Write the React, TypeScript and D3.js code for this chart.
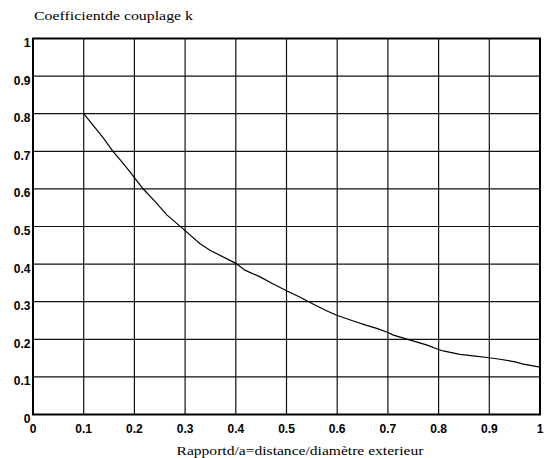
import React from "react";
import * as d3 from "d3";

const xTicks = [0, 0.1, 0.2, 0.3, 0.4, 0.5, 0.6, 0.7, 0.8, 0.9, 1];
const yTicks = [0, 0.1, 0.2, 0.3, 0.4, 0.5, 0.6, 0.7, 0.8, 0.9, 1];
const xTickLabels = ["0", "0.1", "0.2", "0.3", "0.4", "0.5", "0.6", "0.7", "0.8", "0.9", "1"];
const yTickLabels = ["0", "0.1", "0.2", "0.3", "0.4", "0.5", "0.6", "0.7", "0.8", "0.9", "1"];

const ratio = [0.1, 0.139, 0.158, 0.172, 0.191, 0.2, 0.218, 0.241, 0.264, 0.3, 0.329, 0.349, 0.4, 0.418, 0.448, 0.471, 0.5, 0.527, 0.556, 0.579, 0.599, 0.629, 0.658, 0.678, 0.7, 0.711, 0.744, 0.776, 0.8, 0.809, 0.842, 0.868, 0.9, 0.921, 0.951, 0.967, 1.0];
const coupling = [0.8, 0.735, 0.699, 0.677, 0.646, 0.63, 0.599, 0.566, 0.531, 0.489, 0.455, 0.437, 0.402, 0.384, 0.366, 0.349, 0.329, 0.312, 0.291, 0.276, 0.264, 0.25, 0.237, 0.229, 0.218, 0.211, 0.198, 0.185, 0.173, 0.169, 0.16, 0.156, 0.151, 0.147, 0.14, 0.134, 0.126];

const title = "Coefficientde couplage k";
const xTitle = "Rapportd/a=distance/diamètre exterieur";

export default function App() {
  const W = 547, H = 458;
  const x = d3.scaleLinear().domain([0, 1]).range([33, 540]);
  const y = d3.scaleLinear().domain([0, 1]).range([414.5, 38.5]);
  const pts = ratio.map((r, i) => [r, coupling[i]] as [number, number]);
  const line = d3.line<[number, number]>().x(d => x(d[0])).y(d => y(d[1]));
  const sans = "Arial, 'Liberation Sans', Helvetica, sans-serif";
  const serif = "'Times New Roman', 'Liberation Serif', serif";
  return (
    <svg width={W} height={H} style={{ position: "absolute", left: 0, top: 0, background: "#fff" }}>
      <rect x={0} y={0} width={W} height={H} fill="#fff" />
      {xTicks.map((t, i) => (
        <line key={"gx" + i} x1={x(t)} x2={x(t)} y1={y(0)} y2={y(1)} stroke="#111" strokeWidth={1.2} />
      ))}
      {yTicks.map((t, i) => (
        <line key={"gy" + i} x1={x(0)} x2={x(1)} y1={y(t)} y2={y(t)} stroke="#111" strokeWidth={1.2} />
      ))}
      <rect x={x(0)} y={y(1)} width={x(1) - x(0)} height={y(0) - y(1)} fill="none" stroke="#000" strokeWidth={2} />
      <path d={line(pts) || ""} fill="none" stroke="#000" strokeWidth={1.2} />
      {xTicks.map((t, i) => (
        <text key={"xl" + i} x={x(t)} y={433} textAnchor="middle" fontFamily={sans} fontWeight="bold" fontSize={12} fill="#000">
          {xTickLabels[i]}
        </text>
      ))}
      {yTicks.map((t, i) => (
        <text key={"yl" + i} x={30.5} y={y(t) + 8.4} textAnchor="end" fontFamily={sans} fontWeight="bold" fontSize={12} fill="#000">
          {yTickLabels[i]}
        </text>
      ))}
      <text x={34} y={20.3} fontFamily={serif} fontSize={12.5} textLength={159} lengthAdjust="spacingAndGlyphs" fill="#000">{title}</text>
      <text x={176.5} y={455} fontFamily={serif} fontSize={11.5} textLength={247} lengthAdjust="spacingAndGlyphs" fill="#000">{xTitle}</text>
    </svg>
  );
}
